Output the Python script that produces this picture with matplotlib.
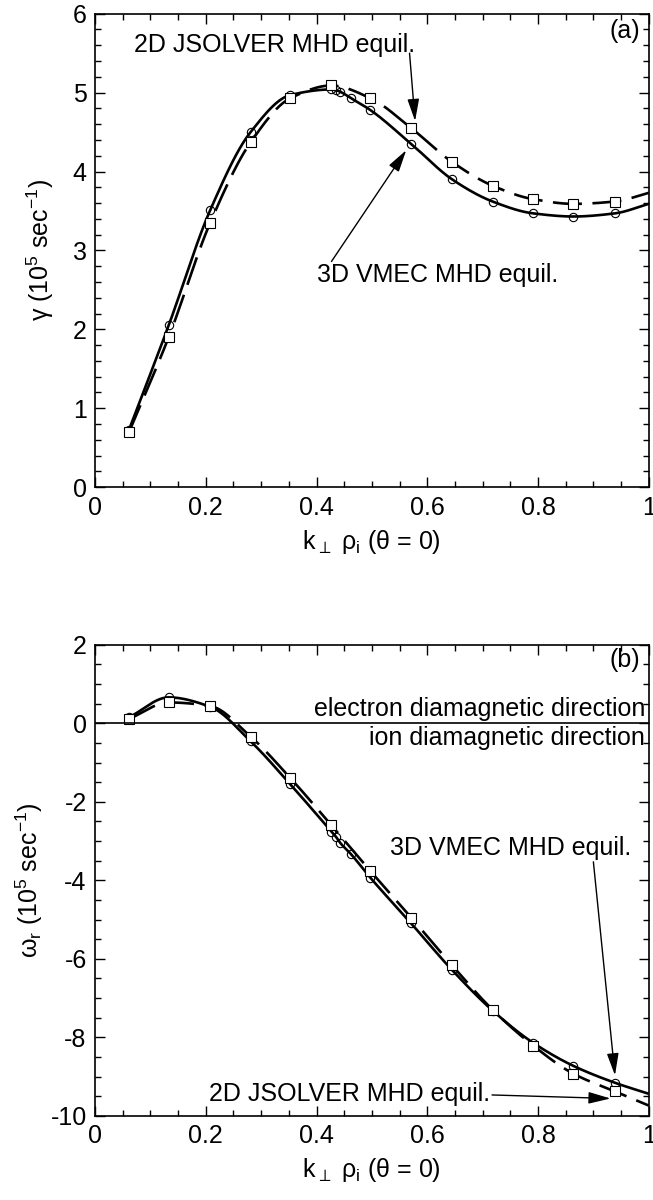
import numpy as np
import matplotlib
matplotlib.use("Agg")
import matplotlib.pyplot as plt
from matplotlib.ticker import MultipleLocator

plt.rcParams["font.family"] = ["Liberation Sans", "DejaVu Sans"]
plt.rcParams["mathtext.default"] = "regular"
plt.rcParams["axes.unicode_minus"] = False
plt.rcParams["font.size"] = 18

# wavenumber grid k_perp rho_i
k_jsolver = [0.0615, 0.133, 0.208, 0.281, 0.353, 0.427, 0.497,
             0.571, 0.645, 0.718, 0.791, 0.864, 0.939]
k_vmec = [0.0615, 0.133, 0.208, 0.281, 0.353, 0.427, 0.435, 0.443, 0.462,
          0.497, 0.571, 0.645, 0.718, 0.791, 0.864, 0.939]

# (a) growth rate, 1e5 1/s
gamma_jsolver = [0.70, 1.90, 3.35, 4.37, 4.93, 5.09, 4.93,
                 4.55, 4.12, 3.82, 3.65, 3.59, 3.62]
gamma_vmec = [0.73, 2.05, 3.51, 4.50, 4.97, 5.04, 5.03, 5.01, 4.93,
              4.78, 4.35, 3.90, 3.62, 3.47, 3.43, 3.47]

# (b) real frequency, 1e5 1/s
omega_jsolver = [0.11, 0.53, 0.44, -0.34, -1.40, -2.60, -3.76,
                 -4.95, -6.17, -7.30, -8.21, -8.93, -9.38]
omega_vmec = [0.15, 0.66, 0.42, -0.46, -1.56, -2.76, -2.89, -3.05, -3.33,
              -3.93, -5.10, -6.29, -7.32, -8.14, -8.73, -9.16]

# where the fitted curves leave the frame at k = 1
k_edge = 1.0
gamma_edge = {"jsolver": 3.73, "vmec": 3.59}
omega_edge = {"jsolver": -9.74, "vmec": -9.44}


def smooth(x, y, n=25):
    """Monotone cubic (Fritsch-Carlson) curve through the points."""
    x = np.asarray(x, float)
    y = np.asarray(y, float)
    h = np.diff(x)
    d = np.diff(y) / h
    m = np.zeros_like(y)
    m[0], m[-1] = d[0], d[-1]
    for i in range(1, len(x) - 1):
        if d[i - 1] * d[i] > 0:
            w1 = 2 * h[i] + h[i - 1]
            w2 = h[i] + 2 * h[i - 1]
            m[i] = (w1 + w2) / (w1 / d[i - 1] + w2 / d[i])
    xs, ys = [], []
    for i in range(len(x) - 1):
        t = np.linspace(0, 1, n, endpoint=False)
        h00 = 2 * t**3 - 3 * t**2 + 1
        h10 = t**3 - 2 * t**2 + t
        h01 = -2 * t**3 + 3 * t**2
        h11 = t**3 - t**2
        xs.append(x[i] + t * h[i])
        ys.append(h00 * y[i] + h10 * h[i] * m[i] + h01 * y[i + 1] + h11 * h[i] * m[i + 1])
    xs.append([x[-1]])
    ys.append([y[-1]])
    return np.concatenate(xs), np.concatenate(ys)


def draw_panel(ax, y_js, y_vm, edge):
    xs, ys = smooth(k_vmec + [k_edge], y_vm + [edge["vmec"]])
    ax.plot(xs, ys, color="black", lw=1.9, solid_capstyle="butt")
    xs, ys = smooth(k_jsolver + [k_edge], y_js + [edge["jsolver"]])
    ax.plot(xs, ys, color="black", lw=1.9, ls=(0, (11, 4)), dash_capstyle="butt")
    ax.plot(k_vmec, y_vm, ls="none", marker="o", ms=6, mfc="none",
            mec="black", mew=0.8)
    ax.plot(k_jsolver, y_js, ls="none", marker="s", ms=6.5, mfc="white",
            mec="black", mew=0.8)
    ax.set_xlim(0, 1)
    ax.set_xticks([0, 0.2, 0.4, 0.6, 0.8, 1])
    ax.set_xticklabels(["0", "0.2", "0.4", "0.6", "0.8", "1"])
    ax.xaxis.set_minor_locator(MultipleLocator(0.05))
    ax.tick_params(which="both", direction="in", top=True, right=True,
                   labelsize=18, width=1)
    ax.tick_params(which="major", length=7, pad=6)
    ax.tick_params(which="minor", length=4)
    for s in ax.spines.values():
        s.set_linewidth(1.2)
    ax.set_xlabel(r"k$_{\perp}$ ρ$_{i}$ (θ = 0)", labelpad=6)


arrow = dict(arrowstyle="-|>,head_length=0.75,head_width=0.2",
             color="black", lw=1.0, shrinkA=0, shrinkB=0)

fig = plt.figure(figsize=(6.53, 12), dpi=100)
ax_a = fig.add_axes([0.1455, 0.594, 0.848, 0.3946])
ax_b = fig.add_axes([0.1455, 0.0702, 0.848, 0.3925])

# (a)
draw_panel(ax_a, gamma_jsolver, gamma_vmec, gamma_edge)
ax_a.set_ylim(0, 6)
ax_a.yaxis.set_major_locator(MultipleLocator(1))
ax_a.yaxis.set_minor_locator(MultipleLocator(0.2))
ax_a.set_ylabel("γ (10$^{5}$ sec$^{-1}$)", labelpad=12)
ax_a.text(0.985, 5.78, "(a)", ha="right", va="center")
ax_a.text(0.07, 5.6, "2D JSOLVER MHD equil.", ha="left", va="center")
ax_a.annotate("", xy=(0.578, 4.64), xytext=(0.568, 5.5), arrowprops=arrow)
ax_a.text(0.618, 2.69, "3D VMEC MHD equil.", ha="center", va="center")
ax_a.annotate("", xy=(0.562, 4.27), xytext=(0.427, 2.86), arrowprops=arrow)

# (b)
draw_panel(ax_b, omega_jsolver, omega_vmec, omega_edge)
ax_b.set_ylim(-10, 2)
ax_b.yaxis.set_major_locator(MultipleLocator(2))
ax_b.yaxis.set_minor_locator(MultipleLocator(0.5))
ax_b.axhline(0, color="black", lw=1.2)
ax_b.set_ylabel("ω$_{r}$ (10$^{5}$ sec$^{-1}$)", labelpad=4)
ax_b.text(0.985, 1.6, "(b)", ha="right", va="center")
ax_b.text(0.993, 0.36, "electron diamagnetic direction", ha="right", va="center")
ax_b.text(0.993, -0.38, "ion diamagnetic direction", ha="right", va="center")
ax_b.text(0.75, -3.19, "3D VMEC MHD equil.", ha="center", va="center")
ax_b.annotate("", xy=(0.939, -8.97), xytext=(0.90, -3.53), arrowprops=arrow)
ax_b.text(0.714, -9.44, "2D JSOLVER MHD equil.", ha="right", va="center")
ax_b.annotate("", xy=(0.931, -9.56), xytext=(0.717, -9.47), arrowprops=arrow)

fig.savefig("out.png", dpi=100)
